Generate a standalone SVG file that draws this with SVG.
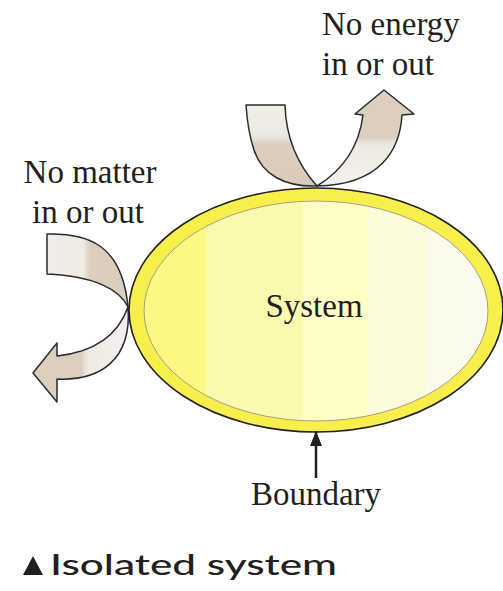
<svg xmlns="http://www.w3.org/2000/svg" width="503" height="591" viewBox="0 0 503 591">
<style>
.lbl{font-family:"Liberation Serif","Times New Roman",serif;font-size:33px;fill:#231f20}
.rib{stroke:#2b2b2b;stroke-width:1.5;stroke-linejoin:round}
.cap{font-family:Lato,"Open Sans",sans-serif;font-size:29px;font-weight:500;fill:#231f20}
</style>
<defs>
<linearGradient id="sysFill" gradientUnits="userSpaceOnUse" x1="144" y1="0" x2="488" y2="0">
<stop offset="0" stop-color="#fbf883"/>
<stop offset="0.18" stop-color="#fbf883"/>
<stop offset="0.18" stop-color="#fafaae"/>
<stop offset="0.46" stop-color="#fafaae"/>
<stop offset="0.46" stop-color="#fdfdc6"/>
<stop offset="0.65" stop-color="#fdfdc6"/>
<stop offset="0.65" stop-color="#fbfbd9"/>
<stop offset="0.82" stop-color="#fbfbd9"/>
<stop offset="0.82" stop-color="#fbfbe8"/>
<stop offset="1" stop-color="#fbfbee"/>
</linearGradient>
<linearGradient id="topL" gradientUnits="userSpaceOnUse" x1="0" y1="105" x2="0" y2="186">
<stop offset="0" stop-color="#f2eee6"/>
<stop offset="0.36" stop-color="#eeeae2"/>
<stop offset="0.42" stop-color="#e2dfda"/>
<stop offset="0.48" stop-color="#dccfbe"/>
<stop offset="1" stop-color="#d8cbba"/>
</linearGradient>
<linearGradient id="topR" gradientUnits="userSpaceOnUse" x1="0" y1="90" x2="0" y2="186">
<stop offset="0" stop-color="#dccfbe"/>
<stop offset="0.5" stop-color="#dccfbe"/>
<stop offset="0.54" stop-color="#e6e3dd"/>
<stop offset="0.6" stop-color="#efebe2"/>
<stop offset="0.9" stop-color="#f3efe9"/>
<stop offset="1" stop-color="#f5f0f0"/>
</linearGradient>
<linearGradient id="leftU" gradientUnits="userSpaceOnUse" x1="47" y1="0" x2="128" y2="0">
<stop offset="0" stop-color="#f3eeee"/>
<stop offset="0.15" stop-color="#efebe2"/>
<stop offset="0.45" stop-color="#efebe2"/>
<stop offset="0.48" stop-color="#e2dfda"/>
<stop offset="0.53" stop-color="#dccfbe"/>
<stop offset="1" stop-color="#dacdbc"/>
</linearGradient>
<linearGradient id="leftD" gradientUnits="userSpaceOnUse" x1="33" y1="0" x2="130" y2="0">
<stop offset="0" stop-color="#dccfbe"/>
<stop offset="0.5" stop-color="#dccfbe"/>
<stop offset="0.53" stop-color="#e4e1dc"/>
<stop offset="0.58" stop-color="#efebe2"/>
<stop offset="0.85" stop-color="#f2eeea"/>
<stop offset="1" stop-color="#f5f0f2"/>
</linearGradient>
<marker id="ah" viewBox="0 0 15 12" refX="15" refY="6" markerWidth="15" markerHeight="12" markerUnits="userSpaceOnUse" orient="auto">
<path d="M15,6 L0,0 L0,12 Z" fill="#231f20"/>
</marker>
</defs>

<g id="energy-arrow">
<path class="rib" fill="url(#topL)" d="M246,105 L285,105 C286,140 298,165 317,186 C285,187 262,175 254,150 C249,135 247,120 246,105 Z"/>
<path class="rib" fill="url(#topR)" d="M317,186 C335,175 358,155 363,115 L355,114 L384,90 L414,114 L402,115 C400,150 380,185 317,186 Z"/>
</g>

<g id="matter-arrow">
<path class="rib" fill="url(#leftU)" d="M47,234 C85,233 122,242 128,307 C120,290 95,276 47,274 Z"/>
<path class="rib" fill="url(#leftD)" d="M128,307 C118,335 95,352 57,356 L57,343 L33,373 L57,402 L57,379 C100,381 132,360 128,307 Z"/>
</g>

<g id="system">
<ellipse cx="316" cy="310" rx="187" ry="122" fill="#f9ef4c" stroke="#231f20" stroke-width="1.6"/>
<ellipse cx="316" cy="311" rx="172" ry="110" fill="url(#sysFill)" stroke="#a89f80" stroke-width="1"/>
<text class="lbl" x="314" y="317" text-anchor="middle">System</text>
</g>

<g id="label-energy">
<text class="lbl" x="322" y="35">No energy</text>
<text class="lbl" x="322" y="75">in or out</text>
</g>

<g id="label-matter">
<text class="lbl" x="90" y="183" text-anchor="middle">No matter</text>
<text class="lbl" x="88" y="223" text-anchor="middle">in or out</text>
</g>

<g id="label-boundary">
<text class="lbl" x="316" y="505" text-anchor="middle">Boundary</text>
</g>

<g id="connectors">
<line x1="316" y1="478" x2="316" y2="431" stroke="#231f20" stroke-width="2.5" marker-end="url(#ah)"/>
</g>

<g id="caption">
<polygon points="23,575 43,575 33,556" fill="#231f20"/>
<text class="cap" x="50" y="575" textLength="287" lengthAdjust="spacingAndGlyphs">Isolated system</text>
</g>
</svg>
